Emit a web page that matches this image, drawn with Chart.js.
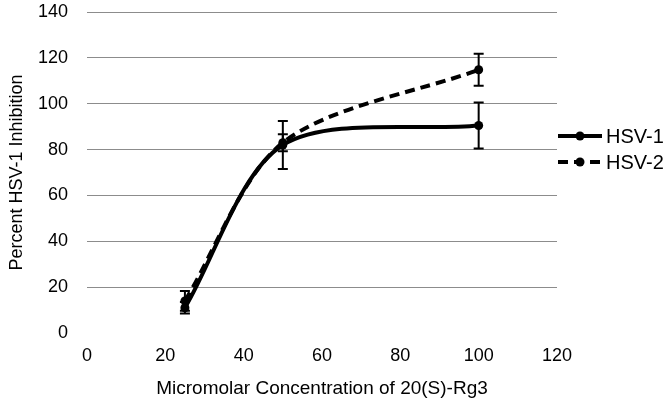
<!DOCTYPE html>
<html>
<head>
<meta charset="utf-8">
<script src="https://cdn.jsdelivr.net/npm/chart.js@4.4.1/dist/chart.umd.min.js"></script>
<style>
  body { margin: 0; background: #fff; }
  canvas { display: block; }
</style>
</head>
<body>
<canvas id="myChart" width="670" height="402"></canvas>
<script>
'use strict';

// concentrations (x) and the two series
var conc = [25, 50, 100];
var hsv1 = [11, 82, 90.5];
var hsv2 = [14, 83, 114.8];
// error bar half-lengths
var hsv1Err = [2.5, 10.5, 10];
var hsv2Err = [4.3, 3.7, 7];

var seriesNames = ['HSV-1', 'HSV-2'];
var FONT = '"Liberation Sans", Arial, sans-serif';

function toPoints(vals) {
   return conc.map(function (c, i) { return { x: c, y: vals[i] }; });
}

// draws the error bars from the data arrays through the chart scales
var errorBars = {
   id: 'errorBars',
   afterDatasetsDraw: function (chart) {
      var ctx = chart.ctx;
      var xs = chart.scales.x, ys = chart.scales.y;
      var sets = [[hsv1, hsv1Err], [hsv2, hsv2Err]];
      ctx.save();
      ctx.strokeStyle = '#000';
      ctx.lineWidth = 2;
      sets.forEach(function (s) {
         conc.forEach(function (c, i) {
            var px = xs.getPixelForValue(c);
            var top = ys.getPixelForValue(s[0][i] + s[1][i]);
            var bot = ys.getPixelForValue(s[0][i] - s[1][i]);
            ctx.beginPath();
            ctx.moveTo(px, top); ctx.lineTo(px, bot);
            ctx.moveTo(px - 5, top); ctx.lineTo(px + 5, top);
            ctx.moveTo(px - 5, bot); ctx.lineTo(px + 5, bot);
            ctx.stroke();
         });
      });
      ctx.restore();
   }
};

// legend on the right: line + marker + name
var sideLegend = {
   id: 'sideLegend',
   afterDraw: function (chart) {
      var ctx = chart.ctx;
      var x0 = chart.chartArea.right + 1;
      var ys = [136, 162];
      ctx.save();
      chart.data.datasets.forEach(function (ds, i) {
         var y = ys[i];
         ctx.strokeStyle = '#000';
         ctx.lineWidth = 4;
         ctx.setLineDash(ds.borderDash || []);
         ctx.beginPath();
         ctx.moveTo(x0, y); ctx.lineTo(x0 + 44, y);
         ctx.stroke();
         ctx.setLineDash([]);
         ctx.fillStyle = '#000';
         ctx.beginPath();
         ctx.arc(x0 + 22, y, 4.5, 0, Math.PI * 2);
         ctx.fill();
         ctx.font = '20px ' + FONT;
         ctx.textBaseline = 'middle';
         ctx.fillText(ds.label, x0 + 48, y + 1);
      });
      ctx.restore();
   }
};

var ctx = document.getElementById('myChart').getContext('2d');
var myChart = new Chart(ctx, {
   type: 'scatter',
   data: {
      datasets: [{
         label: seriesNames[0],
         data: toPoints(hsv1),
         showLine: true,
         tension: 0.3,
         borderColor: '#000',
         borderWidth: 4,
         pointRadius: 4.5,
         pointBackgroundColor: '#000',
         pointBorderWidth: 0
      }, {
         label: seriesNames[1],
         data: toPoints(hsv2),
         showLine: true,
         tension: 0.3,
         borderColor: '#000',
         borderWidth: 4,
         borderDash: [10, 6],
         pointRadius: 4.5,
         pointBackgroundColor: '#000',
         pointBorderWidth: 0
      }]
   },
   options: {
      responsive: false,
      animation: false,
      layout: { padding: { top: 12, right: 113, bottom: 0, left: 0 } },
      plugins: {
         legend: { display: false },
         tooltip: { enabled: false }
      },
      scales: {
         x: {
            type: 'linear',
            min: 0, max: 120,
            afterFit: function (s) { s.height = 69; s.paddingLeft = 0; s.paddingRight = 0; },
            grid: { display: false, drawTicks: false },
            border: { display: false },
            ticks: { stepSize: 20, padding: 12, color: '#000', font: { family: FONT, size: 18 } },
            title: {
               display: true,
               text: 'Micromolar Concentration of 20(S)-Rg3',
               color: '#000',
               font: { family: FONT, size: 19 },
               padding: { top: 0, bottom: 2 }
            }
         },
         y: {
            min: 0, max: 140,
            afterFit: function (s) { s.width = 87; s.paddingTop = 0; s.paddingBottom = 0; },
            grid: {
               drawTicks: false,
               color: function (c) { return c.tick.value === 0 ? 'rgba(0,0,0,0)' : '#8c8c8c'; },
               lineWidth: 1
            },
            border: { display: false },
            ticks: { stepSize: 20, padding: 19, color: '#000', font: { family: FONT, size: 18 } },
            title: {
               display: true,
               text: 'Percent HSV-1 Inhibition',
               color: '#000',
               font: { family: FONT, size: 18 },
               padding: { top: 6, bottom: 0 }
            }
         }
      }
   },
   plugins: [errorBars, sideLegend]
});
</script>
</body>
</html>
